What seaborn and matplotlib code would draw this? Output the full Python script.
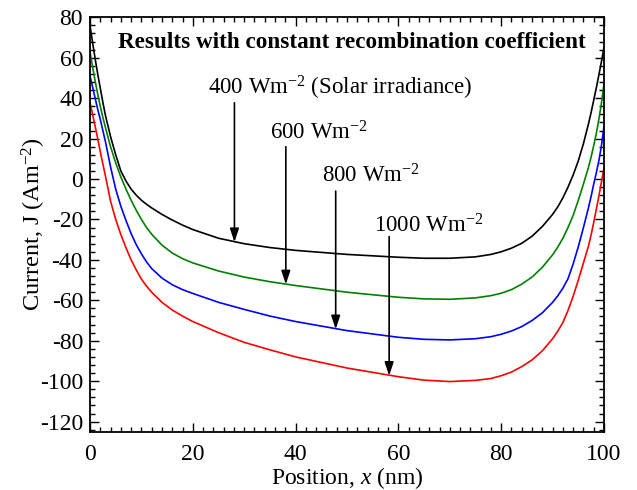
import numpy as np
import pandas as pd
import matplotlib
matplotlib.use("Agg")
import matplotlib.pyplot as plt
import seaborn as sns
from matplotlib.ticker import MultipleLocator

# ---- data ----
position = [0, 0.5, 1, 1.5, 2, 2.5, 3, 4, 5, 6, 7, 8, 9, 10, 11, 12, 14, 16, 18, 20, 25, 30, 35, 40,
            50, 60, 65, 70, 75, 78, 80, 82, 84, 86, 88, 90, 91, 92, 93, 94, 95, 96, 97, 97.5, 98,
            98.5, 99, 99.5, 100]
j_400 = [76, 67.5, 59.5, 52, 45, 38, 31.5, 21, 12, 4, -1, -5, -8, -10.5, -12.5, -14.3, -17.5, -20.3, -22.8, -25,
         -29.3, -32, -33.9, -35.3, -37.3, -38.7, -39.2, -39.2, -38.5, -37.3, -36, -34.2, -31.8, -28.3,
         -23.5, -17.5, -13.8, -9.3, -4, 2, 9, 17.5, 27.5, 33, 39, 45, 51.5, 58, 65]
j_600 = [63, 55.5, 48.5, 42, 36, 30.5, 25.5, 16, 8, 1, -5, -10.5, -15.5, -20, -24, -27.3, -32.7, -36.6, -39.4,
         -41.5, -45.5, -48.5, -50.8, -52.7, -56, -58.5, -59.3, -59.5, -58.8, -57.7, -56.5, -54.7, -52,
         -48.5, -43.7, -37.5, -33.7, -29.3, -24, -18, -10.5, -2.5, 6, 11, 16.5, 22.5, 29.5, 37.5, 47]
j_800 = [51, 45.5, 40, 34.5, 29.5, 24, 18.5, 6, -5, -13.5, -20.5, -27, -32.5, -37, -41, -44.3, -49, -52.3,
         -54.7, -56.6, -61, -64.5, -67.8, -70.5, -75, -78.3, -79.3, -79.6, -79, -78, -76.8, -75.2, -73,
         -70, -66.2, -61, -57.8, -54, -49.3, -42, -33.5, -24, -14, -8.5, -2.5, 3, 9, 16.5, 26]
j_1000 = [38, 32, 26, 20, 13.5, 7.5, 1.5, -11, -20, -27.5, -34, -40, -45, -49.5, -53, -56, -61, -64.8,
          -67.8, -70.5, -76, -80.8, -84.5, -88, -93.5, -97.8, -99.5, -100.2, -99.6, -98.7, -97.3,
          -95.5, -92.8, -89.5, -85, -79, -75.3, -71, -65, -58, -50, -41.5, -33, -27.5, -21.5, -15,
          -8.5, -1.5, 5.5]
series_names = ["400", "600", "800", "1000"]
series_colors = ["black", "green", "blue", "red"]

# annotations: label, arrow x, arrow top y, arrow tip y, label x, label y
ann_labels = [r"400 Wm$^{-2}$ (Solar irradiance)", r"600 Wm$^{-2}$", r"800 Wm$^{-2}$", r"1000 Wm$^{-2}$"]
ann_x = [28.1, 38.1, 47.8, 58.2]
ann_top = [37.7, 16.0, -6.0, -28.5]
ann_tip = [-31.2, -52.1, -74.3, -97.3]
lab_x = [23.0, 35.0, 45.1, 55.3]
lab_y = [41.6, 19.5, -1.7, -26.4]

df = pd.concat([
    pd.DataFrame({"x": position, "J": vals, "irr": name})
    for name, vals in zip(series_names, [j_400, j_600, j_800, j_1000])
])

sns.set_theme(style="ticks")
plt.rcParams["font.family"] = ["Liberation Serif", "DejaVu Serif"]
plt.rcParams["mathtext.fontset"] = "custom"
plt.rcParams["mathtext.rm"] = "Liberation Serif"
plt.rcParams["mathtext.it"] = "Liberation Serif:italic"
plt.rcParams["mathtext.bf"] = "Liberation Serif:bold"
plt.rcParams["axes.unicode_minus"] = False
for k in ["text.color", "axes.labelcolor", "xtick.color", "ytick.color", "axes.edgecolor"]:
    plt.rcParams[k] = "black"

fig = plt.figure(figsize=(6.37, 4.90), dpi=100)
ax = fig.add_axes([90/637, 1 - 431.7/490, (604-90)/637, (431.7-17.3)/490])

sns.lineplot(data=df, x="x", y="J", hue="irr", palette=dict(zip(series_names, series_colors)),
             ax=ax, legend=False, linewidth=1.2, sort=True, estimator=None)

ax.set_xlim(0, 100)
ax.set_ylim(-125, 80)
ax.xaxis.set_major_locator(MultipleLocator(20))
ax.xaxis.set_minor_locator(MultipleLocator(2))
ax.yaxis.set_major_locator(MultipleLocator(20))
ax.yaxis.set_minor_locator(MultipleLocator(4))
ax.tick_params(which="both", direction="in", top=True, right=True, width=1.0)
ax.tick_params(which="major", length=6.5, labelsize=17)
ax.tick_params(axis="x", which="major", pad=9)
ax.tick_params(axis="y", which="major", pad=5)
ax.tick_params(which="minor", length=3.5)
for sp in ax.spines.values():
    sp.set_linewidth(1.3)

ax.set_xlabel(r"Position, $\it{x}$ (nm)", fontsize=17, labelpad=0)
ax.set_ylabel(r"Current, J (Am$^{-2}$)", fontsize=17.5, labelpad=-6)

ax.text(51, 64.9, "Results with constant recombination coefficient", ha="center", va="baseline",
        fontsize=16.7, fontweight="bold")

for lbl, xa, yt, yp, lx, ly in zip(ann_labels, ann_x, ann_top, ann_tip, lab_x, lab_y):
    ax.annotate("", xy=(xa, yp), xytext=(xa, yt),
                arrowprops=dict(arrowstyle="-|>,head_length=0.9,head_width=0.3", color="black",
                                lw=1.2, mutation_scale=9, shrinkA=0, shrinkB=0))
    ax.text(lx, ly, lbl, ha="left", va="baseline", fontsize=16.5)

fig.savefig("out.png", dpi=100)
